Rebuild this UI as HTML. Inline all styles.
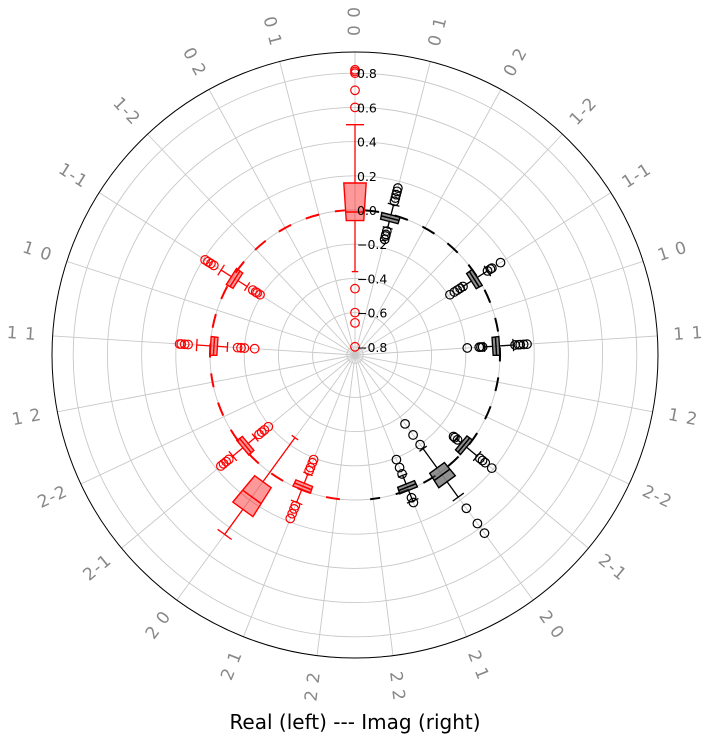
<!DOCTYPE html>
<html><head><meta charset="utf-8">
<style>
html,body{margin:0;padding:0;background:#fff;}
svg{display:block;font-family:"DejaVu Sans","Liberation Sans",sans-serif;}
</style></head>
<body>
<svg id="chart" width="712" height="739" viewBox="0 0 712 739" xmlns="http://www.w3.org/2000/svg">
<g id="grid"></g>
<g id="labels"></g>
<g id="rings"></g>
<g id="boxes"></g>
<g id="rlabels"></g>
<text x="355" y="729" font-size="20" text-anchor="middle" fill="#000">Real (left) --- Imag (right)</text>
</svg>
<script>
// ---- data ----
const angleLabels = ["0 0","0 1","0 2","1-2","1-1","1 0","1 1","1 2","2-2","2-1","2 0","2 1","2 2"];
const radialTicks = [-0.8,-0.6,-0.4,-0.2,0.0,0.2,0.4,0.6,0.8];
const boxSide   = [-1, -1, -1, -1, -1, -1, 1, 1, 1, 1, 1, 1];
const boxIndex  = [0, 4, 6, 9, 10, 11, 1, 4, 6, 9, 10, 11];
const boxQ1     = [-0.06,-0.035,-0.04,-0.035,0.07,-0.04, -0.04,-0.04,-0.04,-0.04,-0.03,-0.035];
const boxMed    = [-0.01,-0.015,-0.02,-0.015,0.18,-0.02, -0.02,-0.02,-0.02,-0.02,0.02,-0.015];
const boxQ3     = [0.16, 0.01, 0.0, 0.005, 0.27, 0.0, 0.0, 0.0, 0.0, 0.0, 0.07, 0.005];
const whiskLo   = [-0.36,-0.1,-0.1,-0.09,-0.25,-0.1, -0.08,-0.1,-0.09,-0.08,-0.17,-0.09];
const whiskHi   = [0.50, 0.08, 0.08, 0.08, 0.45, 0.08, 0.06, 0.07, 0.08, 0.08, 0.18, 0.07];
const outliers  = [
  [-0.46,-0.6,-0.66,-0.8,0.6,0.7,0.8,0.81,0.82],
  [-0.14,-0.16,-0.17,-0.19,0.13,0.15,0.17,0.19],
  [-0.16,-0.18,-0.2,-0.26,0.13,0.15,0.17,0.18],
  [-0.12,-0.14,-0.16,-0.19,0.11,0.13,0.15,0.17],
  [],
  [-0.19,-0.17,-0.14,-0.12,0.1,0.12,0.15,0.18],
  [-0.1,-0.12,-0.13,-0.15,0.08,0.1,0.12,0.14,0.16],
  [-0.1,-0.12,-0.14,-0.16,-0.19,0.07,0.09,0.1,0.16],
  [-0.1,-0.11,-0.12,-0.19,0.09,0.11,0.12,0.14,0.16],
  [-0.07,-0.09,-0.1,0.1,0.12,0.14,0.19],
  [-0.2,-0.27,-0.35,0.26,0.37,0.44],
  [-0.19,-0.14,-0.1,0.05,0.08]
];
// ---- geometry ----
const NS="http://www.w3.org/2000/svg";
const cx=355, cy=355, R0=145, K=171, ROUT=303;
const STEP=14.4*Math.PI/180;
function rad(v){return R0+v*K;}
function pt(th,r){return [cx+r*Math.sin(th), cy-r*Math.cos(th)];}
function mk(tag,attrs,parent){const e=document.createElementNS(NS,tag);for(const k in attrs)e.setAttribute(k,attrs[k]);parent.appendChild(e);return e;}
const grid=document.getElementById('grid');
radialTicks.forEach(v=>{
  const c=mk('circle',{cx:cx,cy:cy,r:rad(v),fill:'none',stroke:'#c8c8c8','stroke-width':0.9},grid);
  
  
});
for(let i=0;i<25;i++){
  const th=i*2*Math.PI/25;const p=pt(th,ROUT);
  const l=mk('line',{x1:cx,y1:cy,x2:p[0],y2:p[1],stroke:'#c8c8c8','stroke-width':0.9},grid);
  
  
}
const oc=mk('circle',{cx:cx,cy:cy,r:ROUT,fill:'none',stroke:'#000','stroke-width':1},grid);


const lab=document.getElementById('labels');
angleLabels.forEach((t,i)=>{
  [1,-1].forEach(s=>{
    if(i===0&&s===-1)return;
    const thd=s*i*14.4; const p=pt(thd*Math.PI/180,334);
    const rot= s>0 ? thd-90 : thd+90;
    const e=mk('text',{x:p[0],y:p[1],'font-size':17,fill:'#888','text-anchor':'middle','dominant-baseline':'central','letter-spacing':'1',transform:`rotate(${rot} ${p[0]} ${p[1]})`},lab);
    e.textContent=t;
    
    
  });
});
const rings=document.getElementById('rings');
function arc(a0,a1,r){const p0=pt(a0,r),p1=pt(a1,r);return `M${p0[0]},${p0[1]} A${r},${r} 0 0 1 ${p1[0]},${p1[1]}`;}
const ra=mk('path',{d:arc(-174*Math.PI/180,-4*Math.PI/180,rad(0)),fill:'none',stroke:'#f00','stroke-width':2,'stroke-dasharray':'14 16'},rings);


const ia=mk('path',{d:arc(4*Math.PI/180,174*Math.PI/180,rad(0)),fill:'none',stroke:'#000','stroke-width':2,'stroke-dasharray':'14 16'},rings);


const bg=document.getElementById('boxes');
const W=0.13;
boxIndex.forEach((idx,k)=>{
  const s=boxSide[k]; const th=s*idx*STEP;
  const col= s<0 ? '#f00':'#000';
  const fill= s<0 ? 'rgba(255,0,0,0.4)':'rgba(70,70,70,0.6)';
  const g=mk('g',{},bg);
  
  
  [[boxQ1[k],whiskLo[k]],[boxQ3[k],whiskHi[k]]].forEach(([a,b])=>{
    const p=pt(th,rad(a)),q=pt(th,rad(b));
    mk('line',{x1:p[0],y1:p[1],x2:q[0],y2:q[1],stroke:col,'stroke-width':1.3},g);
    const c1=pt(th-W*0.3,rad(b)),c2=pt(th+W*0.3,rad(b));
    mk('line',{x1:c1[0],y1:c1[1],x2:c2[0],y2:c2[1],stroke:col,'stroke-width':1.3},g);
  });
  const a=pt(th-W/2,rad(boxQ1[k])),b=pt(th+W/2,rad(boxQ1[k])),c=pt(th+W/2,rad(boxQ3[k])),d=pt(th-W/2,rad(boxQ3[k]));
  mk('polygon',{points:[a,b,c,d].map(p=>p.join(',')).join(' '),fill:fill,stroke:col,'stroke-width':1.4},g);
  const m1=pt(th-W/2,rad(boxMed[k])),m2=pt(th+W/2,rad(boxMed[k]));
  mk('line',{x1:m1[0],y1:m1[1],x2:m2[0],y2:m2[1],stroke:col,'stroke-width':1.5},g);
  outliers[k].forEach(v=>{
    const p=pt(th,rad(v));
    const o=mk('circle',{cx:p[0],cy:p[1],r:4.3,fill:'none',stroke:col,'stroke-width':1.2},g);
    
    
  });
});
const rl=document.getElementById('rlabels');
radialTicks.forEach(v=>{
  const e=mk('text',{x:357,y:cy-rad(v)+5,'font-size':12.5,fill:'#000'},rl);
  e.textContent=(v<0?'\u2212':'')+Math.abs(v).toFixed(1);
  
  
});
</script>
</body></html>
